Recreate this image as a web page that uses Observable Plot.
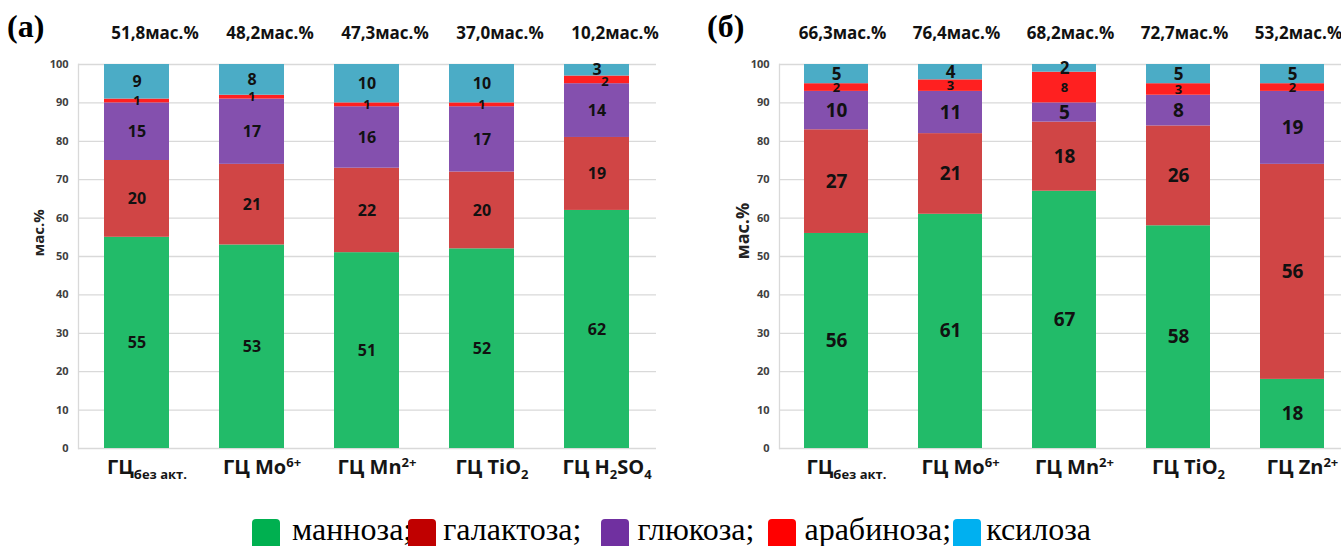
<!DOCTYPE html>
<html><head><meta charset="utf-8">
<script src="https://cdn.jsdelivr.net/npm/d3@7"></script>
<script src="https://cdn.jsdelivr.net/npm/@observablehq/plot@0.6"></script>
<style>
body{margin:0;background:#fff;}
#wrap{position:relative;width:1341px;height:546px;overflow:hidden;background:#fff;}
.panel{position:absolute;top:0;}
.letter{position:absolute;top:6px;font-family:"Liberation Serif","Times New Roman",serif;font-weight:bold;font-size:32px;line-height:40px;}
#legend{position:absolute;left:252px;top:513px;height:34px;display:flex;align-items:flex-start;font-family:"Liberation Serif","Times New Roman",serif;font-size:32px;line-height:32px;white-space:pre;}
#legend .sw{display:inline-block;width:28px;height:32px;border-radius:4px;margin-top:6px;}
#legend .tx{display:inline-block;}
</style></head>
<body>
<div id="wrap">
  <div class="letter" style="left:7px">(a)</div>
  <div class="letter" style="left:707px">(б)</div>
  <div id="pa" class="panel" style="left:0px"></div>
  <div id="pb" class="panel" style="left:700px"></div>
  <div id="legend"></div>
</div>
<script>
const sugars = ["манноза","галактоза","глюкоза","арабиноза","ксилоза"];
const barColors = ["#22bb69","#d04545","#8450ae","#ff2020","#4bacc6"];
const legendColors = ["#00b050","#c00000","#7030a0","#ff0000","#00b0f0"];
const legendTexts = ["манноза;","галактоза;","глюкоза;","арабиноза;","ксилоза"];

const catsA = ["ГЦбез акт.","ГЦ Mo6+","ГЦ Mn2+","ГЦ TiO2","ГЦ H2SO4"];
const catsB = ["ГЦбез акт.","ГЦ Mo6+","ГЦ Mn2+","ГЦ TiO2","ГЦ Zn2+"];

const mannoseA   = [55,53,51,52,62];
const galactoseA = [20,21,22,20,19];
const glucoseA   = [15,17,16,17,14];
const arabinoseA = [1,1,1,1,2];
const xyloseA    = [9,8,10,10,3];

const mannoseB   = [56,61,67,58,18];
const galactoseB = [27,21,18,26,56];
const glucoseB   = [10,11,5,8,19];
const arabinoseB = [2,3,8,3,2];
const xyloseB    = [5,4,2,5,5];

const totalsA = ["51,8мас.%","48,2мас.%","47,3мас.%","37,0мас.%","10,2мас.%"];
const totalsB = ["66,3мас.%","76,4мас.%","68,2мас.%","72,7мас.%","53,2мас.%"];

const yTicks = [0,10,20,30,40,50,60,70,80,90,100];
const yTitle = "мас.%";

// rich tick label parts: [text, kind]
const tickPartsA = [
  [["ГЦ",""],["без акт.","sub"]],
  [["ГЦ Mo",""],["6+","sup"]],
  [["ГЦ Mn",""],["2+","sup"]],
  [["ГЦ TiO",""],["2","sub"]],
  [["ГЦ H",""],["2","sub"],["SO",""],["4","sub"]]
];
const tickPartsB = [
  [["ГЦ",""],["без акт.","sub"]],
  [["ГЦ Mo",""],["6+","sup"]],
  [["ГЦ Mn",""],["2+","sup"]],
  [["ГЦ TiO",""],["2","sub"]],
  [["ГЦ Zn",""],["2+","sup"]]
];

function panel(cats, series, totals, tickParts, o) {
  const rows = [];
  cats.forEach((c, i) => sugars.forEach((s, j) => rows.push({cat: c, sugar: s, value: series[j][i]})));
  const font = "'Open Sans', sans-serif";
  const shifted = d => o.shiftCat && d.cat === o.shiftCat && d.sugar === "арабиноза";
  const sizeOf = d => d.sugar === "арабиноза" ? o.small : d.sugar === "ксилоза" ? o.top : o.big;
  const labelOpts = (show, extra) => Plot.stackY({
    x: "cat", y: "value", z: "sugar",
    text: d => show(d) ? String(d.value) : null,
    fontSize: sizeOf,
    fontWeight: "bold", fill: "#111", ...extra
  });
  const svg = Plot.plot({
    width: o.width, height: 490,
    marginLeft: o.ml, marginRight: 0, marginTop: 64, marginBottom: 42,
    x: {domain: cats, range: [o.ml, o.ml + o.span], paddingInner: 0.435, paddingOuter: 0.2175, label: null},
    y: {domain: [0, 100], label: null},
    color: {domain: sugars, range: barColors},
    style: {fontFamily: font, overflow: "visible", background: "transparent"},
    marks: [
      Plot.ruleY(yTicks, {stroke: "#d9d9d9", strokeWidth: 1.3}),
      Plot.frame({anchor: "left", stroke: "#d9d9d9", strokeWidth: 1.3}),
      Plot.barY(rows, {x: "cat", y: "value", fill: "sugar"}),
      Plot.text(rows, labelOpts(d => !shifted(d), {})),
      Plot.text(rows, labelOpts(d => shifted(d), {dx: 8, dy: 2})),
      Plot.text(totals, {x: (d, i) => cats[i], frameAnchor: "top", dy: -38, dx: o.tdx,
        text: d => d, fontSize: o.tsize, fontWeight: "bold", fill: "#111"}),
      Plot.text([yTitle], {frameAnchor: "left", dx: o.ydx, dy: o.ydy, rotate: -90,
        text: d => d, fontSize: o.ysize, fontWeight: "bold", fill: "#222"}),
      Plot.axisY({ticks: yTicks, tickSize: 0, tickPadding: 10, fontSize: 11, fontWeight: "bold", color: "#404040"}),
      Plot.axisX({tickSize: 0, tickPadding: 11, fontSize: o.xsize, fontWeight: "bold", color: "#151515", dx: o.xdx})
    ]
  });
  // rich tick labels
  const texts = svg.querySelectorAll('g[aria-label="x-axis tick label"] text');
  texts.forEach((t, i) => {
    const parts = tickParts[i];
    if (!parts) return;
    while (t.firstChild) t.removeChild(t.firstChild);
    let shift = 0;
    parts.forEach(([txt, kind]) => {
      const ts = document.createElementNS("http://www.w3.org/2000/svg", "tspan");
      ts.textContent = txt;
      let target = 0;
      if (kind === "sub") { ts.setAttribute("font-size", Math.round(o.xsize * 0.66)); target = 5; }
      else if (kind === "sup") { ts.setAttribute("font-size", Math.round(o.xsize * 0.66)); target = -7; }
      ts.setAttribute("dy", target - shift);
      shift = target;
      t.appendChild(ts);
    });
  });
  return svg;
}

document.getElementById("pa").appendChild(panel(catsA,
  [mannoseA, galactoseA, glucoseA, arabinoseA, xyloseA], totalsA, tickPartsA,
  {width: 656, ml: 78, span: 577.5, small: 13, big: 16, top: 16, tsize: 17, tdx: 18, ydx: -39, ydy: 0, ysize: 15, xsize: 20, xdx: 10, shiftCat: "ГЦ H2SO4"}));

document.getElementById("pb").appendChild(panel(catsB,
  [mannoseB, galactoseB, glucoseB, arabinoseB, xyloseB], totalsB, tickPartsB,
  {width: 641, ml: 79, span: 570, small: 13, big: 19, top: 17, tsize: 17, tdx: 6, ydx: -36, ydy: 3, ysize: 18, xsize: 20, xdx: 10, shiftCat: null}));

// legend
const lg = document.getElementById("legend");
const legendGaps = [[0, 12], [-4, 7], [20, 8], [14, 8], [2, 5]];
sugars.forEach((s, i) => {
  const sw = document.createElement("span");
  sw.className = "sw";
  sw.style.background = legendColors[i];
  sw.style.marginLeft = legendGaps[i][0] + "px";
  const tx = document.createElement("span");
  tx.className = "tx";
  tx.textContent = legendTexts[i];
  tx.style.marginLeft = legendGaps[i][1] + "px";
  lg.appendChild(sw);
  lg.appendChild(tx);
});
</script>
</body></html>
